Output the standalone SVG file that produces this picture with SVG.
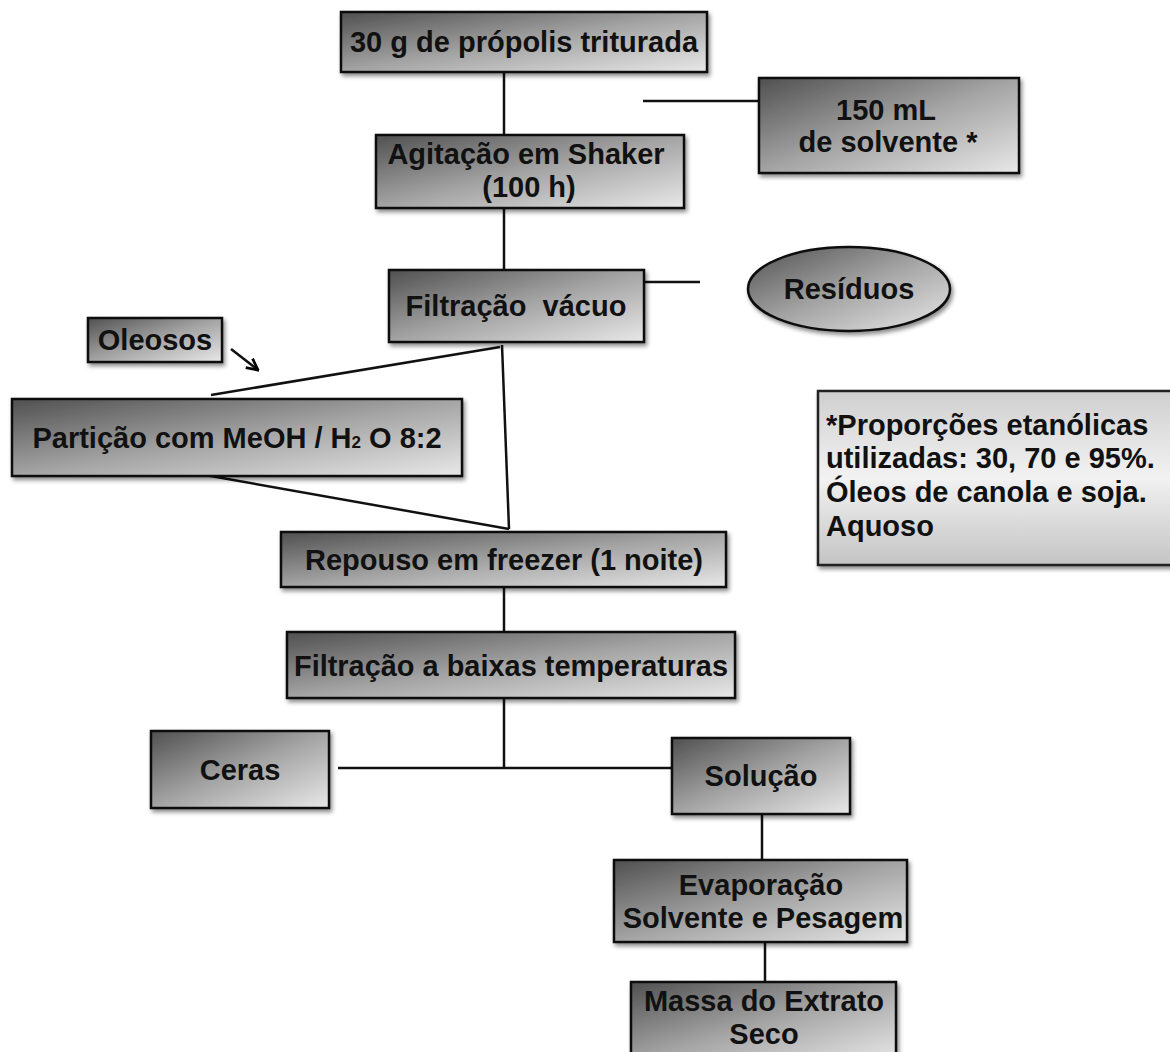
<svg xmlns="http://www.w3.org/2000/svg" width="1170" height="1052" viewBox="0 0 1170 1052">
<defs>
<linearGradient id="g" x1="0" y1="0" x2="1" y2="1">
<stop offset="0" stop-color="#505050"/>
<stop offset="0.5" stop-color="#a4a4a4"/>
<stop offset="1" stop-color="#e8e8e8"/>
</linearGradient>
<linearGradient id="gn" x1="0" y1="0" x2="0" y2="1">
<stop offset="0" stop-color="#cfcfcf"/>
<stop offset="0.5" stop-color="#f2f2f2"/>
<stop offset="1" stop-color="#c4c4c4"/>
</linearGradient>
<filter id="sh" x="-10%" y="-10%" width="130%" height="140%">
<feDropShadow dx="2" dy="3" stdDeviation="2" flood-color="#000" flood-opacity="0.45"/>
</filter>
<marker id="ah" viewBox="0 0 10 10" refX="9" refY="5" markerWidth="14" markerHeight="14" orient="auto" markerUnits="userSpaceOnUse">
<path d="M1,1 L9,5 L1,9" fill="none" stroke="#000" stroke-width="2"/>
</marker>
</defs>
<style>
.b{fill:url(#g);stroke:#111;stroke-width:2.5;filter:url(#sh)}
.n{fill:url(#gn);stroke:#222;stroke-width:2.5;filter:url(#sh)}
.t{font-family:"Liberation Sans",Arial,sans-serif;font-weight:bold;font-size:29px;fill:#111;text-anchor:middle}
.tl{font-family:"Liberation Sans",Arial,sans-serif;font-weight:bold;font-size:29px;fill:#111}
.c{stroke:#111;stroke-width:2.5;fill:none}
</style>
<rect width="1170" height="1052" fill="#fff"/>
<g id="connectors">
<line class="c" x1="504" y1="72" x2="504" y2="135"/>
<line class="c" x1="643" y1="101" x2="760" y2="101"/>
<line class="c" x1="504" y1="208" x2="504" y2="270"/>
<line class="c" x1="644" y1="282" x2="700" y2="282"/>
<line class="c" x1="500" y1="347" x2="211" y2="395"/>
<line class="c" x1="502" y1="345" x2="509" y2="529"/>
<line class="c" x1="205" y1="475" x2="509" y2="529"/>
<line class="c" x1="231" y1="349" x2="258" y2="370" marker-end="url(#ah)"/>
<line class="c" x1="504" y1="587" x2="504" y2="632"/>
<line class="c" x1="504" y1="698" x2="504" y2="768"/>
<line class="c" x1="338" y1="768" x2="672" y2="768"/>
<line class="c" x1="762" y1="814" x2="762" y2="860"/>
<line class="c" x1="765" y1="942" x2="765" y2="982"/>
</g>
<g id="n1"><rect class="b" x="341" y="12" width="366" height="60"/><text class="t" x="524" y="52">30 g de própolis triturada</text></g>
<g id="n2"><rect class="b" x="759" y="78" width="260" height="95"/><text class="t" x="886" y="120">150 mL</text><text class="t" x="888" y="152">de solvente *</text></g>
<g id="n3"><rect class="b" x="376" y="135" width="308" height="73"/><text class="t" x="526" y="164">Agitação em Shaker</text><text class="t" x="529" y="197">(100 h)</text></g>
<g id="n4"><rect class="b" x="389" y="270" width="255" height="72"/><text class="t" x="516" y="316" style="white-space:pre">Filtração  vácuo</text></g>
<g id="n5"><ellipse class="b" cx="849" cy="289" rx="101" ry="42"/><text class="t" x="849" y="299">Resíduos</text></g>
<g id="n6"><rect class="b" x="88" y="318" width="134" height="44"/><text class="t" x="155" y="350">Oleosos</text></g>
<g id="n7"><rect class="b" x="12" y="399" width="450" height="77"/><text class="t" x="237" y="448">Partição com MeOH / H<tspan font-size="17">2</tspan> O 8:2</text></g>
<g id="n8"><rect class="b" x="281" y="532" width="445" height="55"/><text class="t" x="504" y="570">Repouso em freezer (1 noite)</text></g>
<g id="n9"><rect class="b" x="287" y="632" width="448" height="66"/><text class="t" x="511" y="676" textLength="434" lengthAdjust="spacingAndGlyphs">Filtração a baixas temperaturas</text></g>
<g id="n10"><rect class="b" x="151" y="731" width="178" height="77"/><text class="t" x="240" y="780">Ceras</text></g>
<g id="n11"><rect class="b" x="672" y="738" width="178" height="76"/><text class="t" x="761" y="786">Solução</text></g>
<g id="n12"><rect class="b" x="614" y="860" width="293" height="82"/><text class="t" x="761" y="895">Evaporação</text><text class="t" x="763" y="928">Solvente e Pesagem</text></g>
<g id="n13"><rect class="b" x="631" y="982" width="265" height="80"/><text class="t" x="764" y="1011">Massa do Extrato</text><text class="t" x="764" y="1044">Seco</text></g>
<g id="note"><rect class="n" x="818" y="391" width="360" height="174"/>
<text class="tl" x="826" y="435">*Proporções etanólicas</text>
<text class="tl" x="826" y="468">utilizadas: 30, 70 e 95%.</text>
<text class="tl" x="826" y="502">Óleos de canola e soja.</text>
<text class="tl" x="826" y="536">Aquoso</text>
</g>
</svg>
